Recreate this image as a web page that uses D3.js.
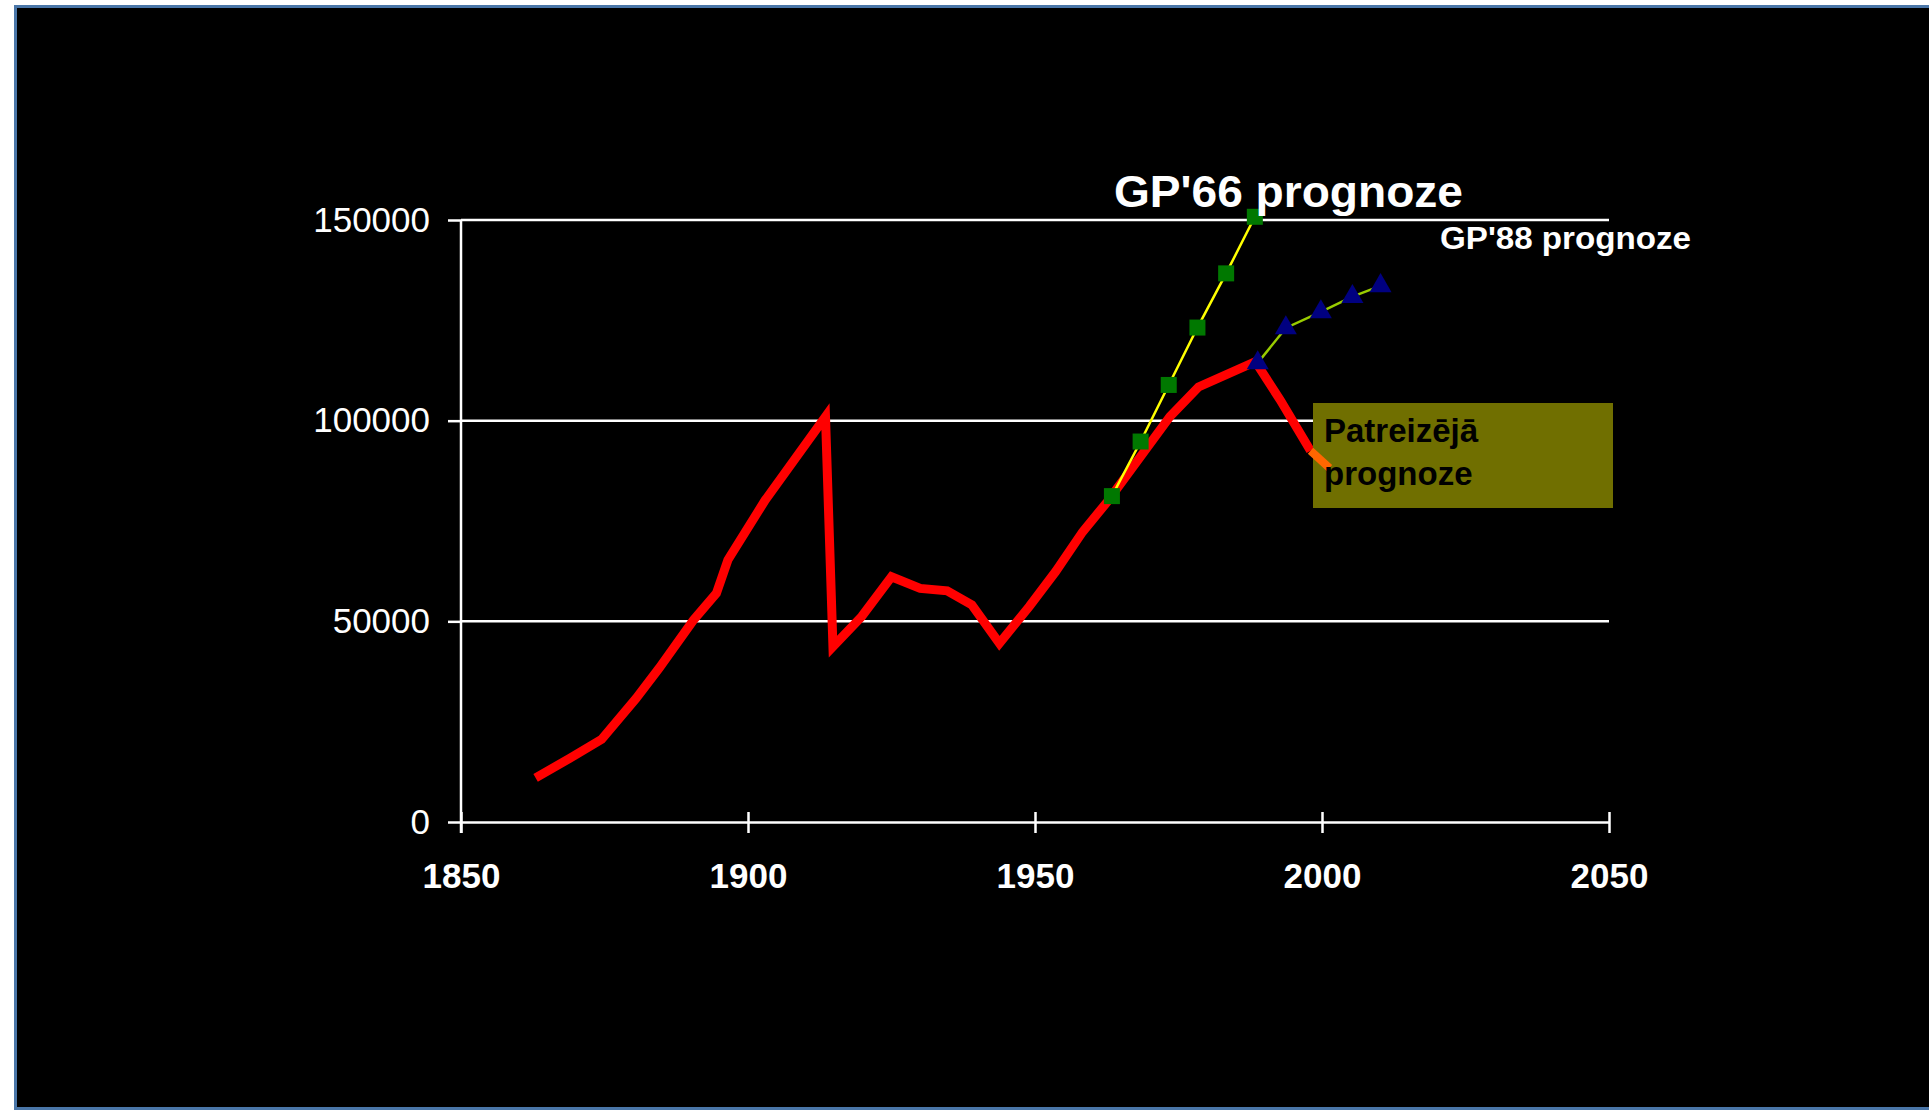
<!DOCTYPE html>
<html>
<head>
<meta charset="utf-8">
<script src="https://cdn.jsdelivr.net/npm/d3@7"></script>
<style>
  html, body { margin: 0; padding: 0; background: #fff; }
  svg { display: block; font-family: "Liberation Sans", Arial, sans-serif; }
</style>
</head>
<body>
<svg id="chart" width="1929" height="1111"></svg>
<script>
// actual population (red line)
var actualYears  = [1863, 1869, 1874.5, 1880.5, 1884.5, 1890.5, 1894.5, 1896.5, 1903, 1913.5, 1914.8, 1919.8, 1925, 1930, 1934.7, 1939, 1943.8, 1949, 1953.6, 1958.3, 1962.6, 1973.5, 1978.5, 1988.4, 1992.7, 1998]
var actualValues = [11000, 15900, 20600, 30800, 38300, 50300, 57000, 65300, 80200, 101000, 43700, 51200, 61100, 58200, 57600, 54100, 44500, 53700, 62400, 72300, 79800, 101000, 108400, 114700, 105200, 92500]
// short orange tail of the current forecast
var tailYears  = [1998, 2001.3]
var tailValues = [92500, 88200]
// GP'66 forecast
var gp66Years  = [1963.4, 1968.4, 1973.3, 1978.3, 1983.3, 1988.3]
var gp66Values = [81200, 94800, 108900, 123200, 136700, 150800]
// GP'88 forecast
var gp88Years  = [1988.8, 1993.7, 1999.8, 2005.3, 2010.2]
var gp88Values = [114400, 123100, 127100, 130900, 133600]

var xTicks = [1850, 1900, 1950, 2000, 2050]
var yTicks = [0, 50000, 100000, 150000]

var svg = d3.select("#chart")

// slide background with the blue frame
svg.append("rect").attr("x", 15.5).attr("y", 6.5).attr("width", 1930).attr("height", 1102)
    .attr("fill", "#000").attr("stroke", "#4a76a8").attr("stroke-width", 3)

var x = d3.scaleLinear().domain([1850, 2050]).range([461, 1609])
var y = d3.scaleLinear().domain([0, 150000]).range([822, 220])

// gridlines
svg.append("g").selectAll("line")
    .data(yTicks.filter(function(d) { return d > 0 }))
    .enter().append("line")
    .attr("x1", x(1850)).attr("x2", x(2050))
    .attr("y1", function(d) { return y(d) }).attr("y2", function(d) { return y(d) })
    .attr("stroke", "#fff").attr("stroke-width", 2.5)

// y axis
var yAxis = svg.append("g").attr("transform", "translate(" + x(1850) + ",0)")
    .call(d3.axisLeft(y).tickValues(yTicks).tickSize(13).tickSizeOuter(0).tickPadding(18).tickFormat(d3.format("d")))
yAxis.select(".domain").attr("stroke", "#fff").attr("stroke-width", 2.5)
    .attr("d", "M0," + y(150000) + "V" + (y(0) + 11))
yAxis.selectAll(".tick line").attr("stroke", "#fff").attr("stroke-width", 2.5)
yAxis.selectAll("text").attr("fill", "#fff").attr("font-size", 35)
    .attr("font-family", "Liberation Sans, Arial, sans-serif")

// x axis
var xAxis = svg.append("g").attr("transform", "translate(0," + y(0) + ")")
    .call(d3.axisBottom(x).tickValues(xTicks).tickSize(11).tickSizeOuter(0).tickFormat(d3.format("d")))
xAxis.select(".domain").attr("stroke", "#fff").attr("stroke-width", 2.5)
xAxis.selectAll(".tick line").attr("stroke", "#fff").attr("stroke-width", 2.5).attr("y1", -10)
xAxis.selectAll("text").attr("fill", "#fff").attr("font-size", 35).attr("font-weight", "bold")
    .attr("font-family", "Liberation Sans, Arial, sans-serif")
    .attr("y", 66).attr("dy", 0)

var line = d3.line().x(function(d) { return x(d[0]) }).y(function(d) { return y(d[1]) })

// actual (red)
svg.append("path").datum(d3.zip(actualYears, actualValues))
    .attr("d", line).attr("fill", "none").attr("stroke", "#ff0000")
    .attr("stroke-width", 9).attr("stroke-linejoin", "miter")

// GP'66
svg.append("path").datum(d3.zip(gp66Years, gp66Values))
    .attr("d", line).attr("fill", "none").attr("stroke", "#ffff00").attr("stroke-width", 2.5)
svg.append("g").selectAll("rect")
    .data(d3.zip(gp66Years, gp66Values))
    .enter().append("rect")
    .attr("x", function(d) { return x(d[0]) - 8 }).attr("y", function(d) { return y(d[1]) - 8 })
    .attr("width", 16).attr("height", 16).attr("fill", "#007800")

// GP'88
svg.append("path").datum(d3.zip(gp88Years, gp88Values))
    .attr("d", line).attr("fill", "none").attr("stroke", "#99cc00").attr("stroke-width", 2.5)
var tri = d3.symbol().type(d3.symbolTriangle).size(210)
svg.append("g").selectAll("path")
    .data(d3.zip(gp88Years, gp88Values))
    .enter().append("path")
    .attr("d", tri)
    .attr("transform", function(d) { return "translate(" + x(d[0]) + "," + y(d[1]) + ")" })
    .attr("fill", "#000080")

// current forecast box
svg.append("rect").attr("x", 1313).attr("y", 403).attr("width", 300).attr("height", 105)
    .attr("fill", "#706f00")
svg.append("path").datum(d3.zip(tailYears, tailValues))
    .attr("d", line).attr("fill", "none").attr("stroke", "#ff6600")
    .attr("stroke-width", 8)

svg.append("text").attr("x", 1324).attr("y", 442).attr("font-size", 33).attr("font-weight", "bold")
    .attr("fill", "#000").text("Patreizējā")
svg.append("text").attr("x", 1324).attr("y", 485).attr("font-size", 33).attr("font-weight", "bold")
    .attr("fill", "#000").text("prognoze")

// labels
svg.append("text").attr("x", 1114).attr("y", 207).attr("font-size", 44).attr("font-weight", "bold")
    .attr("fill", "#fff").attr("textLength", 349).attr("lengthAdjust", "spacingAndGlyphs")
    .text("GP'66 prognoze")
svg.append("text").attr("x", 1440).attr("y", 249).attr("font-size", 32).attr("font-weight", "bold")
    .attr("fill", "#fff").attr("textLength", 251).attr("lengthAdjust", "spacingAndGlyphs")
    .text("GP'88 prognoze")
</script>
</body>
</html>
